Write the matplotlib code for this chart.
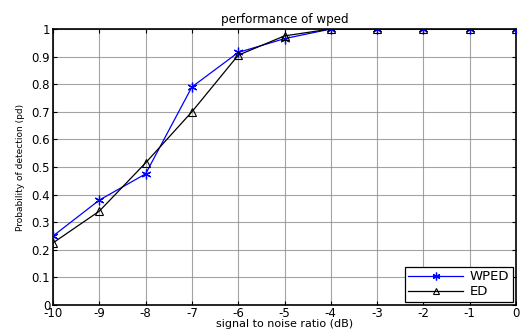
import matplotlib
matplotlib.use("Agg")
import matplotlib.pyplot as plt

# ----- DATA -----
snr_db = [-10, -9, -8, -7, -6, -5, -4, -3, -2, -1, 0]
pd_wped = [0.25, 0.38, 0.475, 0.79, 0.915, 0.965, 1.0, 1.0, 1.0, 1.0, 1.0]
pd_ed = [0.225, 0.34, 0.515, 0.70, 0.905, 0.975, 1.0, 1.0, 1.0, 1.0, 1.0]
y_ticks = [0, 0.1, 0.2, 0.3, 0.4, 0.5, 0.6, 0.7, 0.8, 0.9, 1]
y_tick_labels = ["0", "0.1", "0.2", "0.3", "0.4", "0.5", "0.6", "0.7", "0.8", "0.9", "1"]

plt.rcParams["font.family"] = ["DejaVu Sans"]

fig = plt.figure(figsize=(5.2, 3.32), dpi=100)
ax = fig.add_axes([53 / 520, 1 - 305 / 332, (516 - 53) / 520, (305 - 29) / 332])

ax.plot(snr_db, pd_wped, color="blue", marker=(6, 2, 0), markersize=7, markeredgewidth=0.9,
        linewidth=0.9, label="WPED", zorder=3)
ax.plot(snr_db, pd_ed, color="black", marker="^", markersize=6, markerfacecolor="none",
        markeredgewidth=0.8, linewidth=0.9, label="ED", zorder=3)

ax.set_xlim(-10, 0)
ax.set_ylim(0, 1)
ax.set_xticks(snr_db)
ax.set_xticklabels([str(v) for v in snr_db])
ax.set_yticks(y_ticks)
ax.set_yticklabels(y_tick_labels)
ax.tick_params(direction="in", top=True, right=True, labelsize=8.5, length=3, pad=2)
ax.tick_params(axis="x", pad=1.5)
ax.grid(True, color="#8c8c8c", linewidth=0.8, linestyle="-", alpha=0.8)

for s in ax.spines.values():
    s.set_linewidth(1.2)

ax.set_title("performance of wped", fontsize=8.6, pad=4)
ax.set_xlabel("signal to noise ratio (dB)", fontsize=8, labelpad=-1)
ax.set_ylabel("Probability of detection (pd)", fontsize=6.5, labelpad=5)

leg = ax.legend(loc="lower right", fontsize=9.5, fancybox=False, framealpha=1,
                edgecolor="black", borderaxespad=0.25, handlelength=4.2,
                labelspacing=0.15, borderpad=0.25, handletextpad=0.5, markerscale=0.8)
leg.get_frame().set_linewidth(0.9)

fig.savefig("out.png", dpi=100)
